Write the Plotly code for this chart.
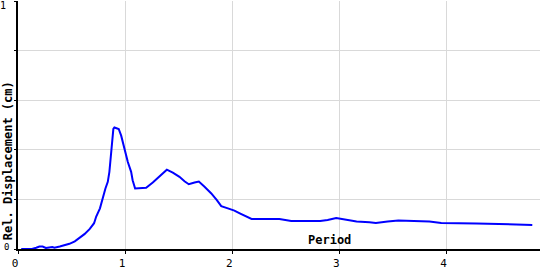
import plotly.graph_objects as go

period = [0.03, 0.13, 0.17, 0.2, 0.23, 0.26, 0.32, 0.34, 0.39, 0.43,
          0.48, 0.53, 0.57, 0.62, 0.67, 0.71, 0.73, 0.765, 0.816, 0.838,
          0.853, 0.878, 0.89, 0.9, 0.94, 0.963, 0.993, 1.025, 1.056, 1.07,
          1.093, 1.134, 1.196, 1.258, 1.32, 1.389, 1.445, 1.507, 1.554, 1.594,
          1.648, 1.688, 1.741, 1.804, 1.856, 1.897, 1.959, 2.02, 2.07, 2.13,
          2.18, 2.44, 2.55, 2.82, 2.89, 2.97, 3.02, 3.08, 3.16, 3.28,
          3.34, 3.45, 3.55, 3.84, 3.95, 4.28, 4.7, 4.8]
displacement = [0, 0, 0.005, 0.01, 0.01, 0.004, 0.008, 0.005, 0.01, 0.015,
                0.021, 0.031, 0.043, 0.06, 0.081, 0.104, 0.131, 0.164, 0.244, 0.271,
                0.311, 0.431, 0.484, 0.49, 0.484, 0.457, 0.404, 0.351, 0.311, 0.277,
                0.244, 0.244, 0.247, 0.268, 0.291, 0.32, 0.308, 0.291, 0.273, 0.261,
                0.268, 0.272, 0.251, 0.224, 0.197, 0.173, 0.164, 0.155, 0.144, 0.131,
                0.121, 0.121, 0.113, 0.113, 0.117, 0.125, 0.121, 0.116, 0.111, 0.108,
                0.105, 0.111, 0.115, 0.111, 0.105, 0.103, 0.099, 0.097]

x_tick_vals = [0, 1, 2, 3, 4]
x_tick_text = ["0", "1", "2", "3", "4"]
y_tick_vals = [0, 0.2, 0.4, 0.6, 0.8, 1]
y_label_vals = [0, 1]
y_label_text = ["0", "1"]
x_title = "Period"
y_title = "Rel. Displacement (cm)"

MONO = "DejaVu Sans Mono"

fig = go.Figure()
fig.add_trace(go.Scatter(x=period, y=displacement, mode="lines",
                         line=dict(color="#0000ff", width=2), hoverinfo="skip"))

fig.update_layout(
    width=540, height=270,
    margin=dict(l=18, r=0, t=1, b=19),
    paper_bgcolor="white", plot_bgcolor="white",
    showlegend=False,
    font=dict(family=MONO, size=11, color="black"),
    xaxis=dict(range=[0, 4.872], tickvals=x_tick_vals, ticktext=x_tick_text,
               showgrid=True, gridcolor="#d9d9d9", gridwidth=1,
               showline=True, linecolor="black", linewidth=2,
               ticks="outside", ticklen=3, tickcolor="black", tickwidth=1,
               ticklabelshift=-3, tickfont=dict(family=MONO, size=11),
               zeroline=False, fixedrange=True),
    yaxis=dict(range=[0, 1], tickvals=y_tick_vals, showticklabels=False,
               showgrid=True, gridcolor="#d9d9d9", gridwidth=1,
               showline=True, linecolor="black", linewidth=2,
               ticks="outside", ticklen=2, tickcolor="black", tickwidth=1,
               zeroline=False, fixedrange=True),
)

for v, t in zip(y_label_vals, y_label_text):
    fig.add_annotation(x=0, xref="paper", y=v, yref="y", text=t, showarrow=False,
                       xanchor="center", yanchor="middle",
                       xshift=-12 if v == 0 else -15, yshift=2 if v == 0 else -4,
                       font=dict(family=MONO, size=10 if v == 1 else 9, color="black"))

fig.add_annotation(x=2.91, y=0.036, xref="x", yref="y", text="<b>%s</b>" % x_title,
                   showarrow=False, xanchor="center", yanchor="middle",
                   font=dict(family=MONO, size=12, color="black"))

fig.add_annotation(x=0, xref="paper", y=0.356, yref="paper", text="<b>%s</b>" % y_title,
                   textangle=-90, showarrow=False, xanchor="center", yanchor="middle",
                   xshift=-10.5, font=dict(family=MONO, size=12, color="black"))

fig.write_html("out.html")
